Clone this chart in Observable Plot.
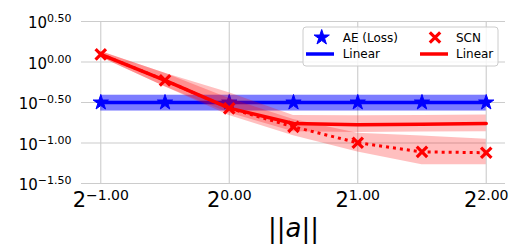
<!DOCTYPE html>
<html><head><meta charset="utf-8">
<script src="https://cdn.jsdelivr.net/npm/d3@7"></script>
<script src="https://cdn.jsdelivr.net/npm/@observablehq/plot@0.6"></script>
<style>
body{margin:0;background:#fff;}
#wrap{position:relative;width:524px;height:244px;}
</style></head><body><div id="wrap"></div>
<script>
// x: log2 of ||a||
const xExp = [-1, -0.5, 0, 0.5, 1, 1.5, 2];
// AE (Loss): log10 of values
const aeLog = [-0.5, -0.5, -0.5, -0.5, -0.5, -0.5, -0.5];
const aeLo  = [-0.605, -0.605, -0.605, -0.605, -0.605, -0.605, -0.605];
const aeHi  = [-0.41, -0.41, -0.41, -0.41, -0.41, -0.41, -0.41];
// SCN markers (dotted)
const scnLog = [0.095, -0.226, -0.572, -0.80, -0.997, -1.11, -1.12];
const scnLo  = [0.06, -0.305, -0.66, -0.91, -1.11, -1.27, -1.27];
const scnHi  = [0.13, -0.14, -0.45, -0.71, -0.88, -0.915, -0.955];
// SCN Linear (solid)
const scnLin   = [0.095, -0.226, -0.57, -0.76, -0.775, -0.77, -0.76];
const scnLinLo = [0.06, -0.305, -0.63, -0.86, -0.87, -0.865, -0.86];
const scnLinHi = [0.13, -0.14, -0.38, -0.66, -0.665, -0.66, -0.655];
// ticks (exponents)
const xTickExp = [-1, 0, 1, 2];
const yTickExp = [-1.5, -1.0, -0.5, 0, 0.5];
const legendLabels = ["AE (Loss)", "SCN", "Linear", "Linear"];

const rows = xExp.map((x, i) => ({
  x, ae: aeLog[i], aeLo: aeLo[i], aeHi: aeHi[i],
  scn: scnLog[i], scnLo: scnLo[i], scnHi: scnHi[i],
  lin: scnLin[i], linLo: scnLinLo[i], linHi: scnLinHi[i]
}));
const BLUE = "#0000ff", RED = "#ff0000";
const fmtExp = v => (v < 0 ? "\u2212" : "") + Math.abs(v).toFixed(2);

const svg = Plot.plot({
  width: 524, height: 244,
  marginLeft: 81, marginRight: 19, marginTop: 21, marginBottom: 61,
  style: {fontFamily: "DejaVu Sans", background: "white", overflow: "visible"},
  x: {type: "linear", domain: [-1.15, 2.15]},
  y: {type: "linear", domain: [-1.5, 0.5]},
  marks: [
    Plot.gridX(xTickExp, {stroke: "#cccccc", strokeOpacity: 1, strokeWidth: 1.1}),
    Plot.gridY(yTickExp, {stroke: "#cccccc", strokeOpacity: 1, strokeWidth: 1.1}),
    Plot.axisX(xTickExp, {tickSize: 0, tickPadding: 9, fontSize: 21, fill: "black",
      tickFormat: d => "2|" + fmtExp(d), label: null}),
    Plot.axisY(yTickExp, {tickSize: 0, tickPadding: 10, fontSize: 15, fill: "black", dy: 2,
      tickFormat: d => "10|" + fmtExp(d), label: null}),
    // AE bands & lines
    Plot.areaY(rows, {x: "x", y1: "aeLo", y2: "aeHi", fill: BLUE, fillOpacity: 0.3}),
    Plot.areaY(rows, {x: "x", y1: "aeLo", y2: "aeHi", fill: BLUE, fillOpacity: 0.3}),
    Plot.line(rows, {x: "x", y: "ae", stroke: BLUE, strokeWidth: 3.5}),
    Plot.dot(rows, {x: "x", y: "ae", symbol: "star", r: 4.8, fill: BLUE, stroke: BLUE, strokeWidth: 1}),
    // SCN bands & lines
    Plot.areaY(rows, {x: "x", y1: "scnLo", y2: "scnHi", fill: RED, fillOpacity: 0.25}),
    Plot.areaY(rows, {x: "x", y1: "linLo", y2: "linHi", fill: RED, fillOpacity: 0.25}),
    Plot.line(rows, {x: "x", y: "scn", stroke: RED, strokeWidth: 3, strokeDasharray: "3,4", strokeLinecap: "butt"}),
    Plot.line(rows, {x: "x", y: "lin", stroke: RED, strokeWidth: 3.5}),
    Plot.dot(rows, {x: "x", y: "scn", symbol: "times", r: 4.8, stroke: RED, strokeWidth: 3.2}),
    Plot.text(["||a||"], {text: d => d, frameAnchor: "bottom", lineAnchor: "top", dy: 35.5, fontSize: 26, fill: "black"})
  ]
});

const ns = "http://www.w3.org/2000/svg";
// superscripts for tick labels
function supify(sel, supSize, shift) {
  svg.querySelectorAll(sel).forEach(t => {
    const s = t.textContent;
    if (!s.includes("|")) return;
    const [b, e] = s.split("|");
    t.textContent = "";
    const t1 = document.createElementNS(ns, "tspan"); t1.textContent = b;
    const t2 = document.createElementNS(ns, "tspan"); t2.textContent = e;
    t2.setAttribute("font-size", supSize); t2.setAttribute("dy", -shift);
    t.appendChild(t1); t.appendChild(t2);
  });
}
supify('g[aria-label="x-axis tick label"] text', 14, 7);
supify('g[aria-label="y-axis tick label"] text', 11, 6);

// italic a in label
svg.querySelectorAll("text").forEach(t => {
  if (t.textContent === "||a||") {
    t.textContent = "";
    ["||", "a", "||"].forEach((p, i) => {
      const sp = document.createElementNS(ns, "tspan");
      sp.textContent = p;
      if (i === 1) sp.setAttribute("font-style", "italic");
      t.appendChild(sp);
    });
  }
});

// legend
const g = d3.select(svg).append("g")
  .style("font-family", "DejaVu Sans").style("font-size", "12px").attr("text-anchor", "start");
g.append("rect").attr("x", 303).attr("y", 27).attr("width", 195).attr("height", 39).attr("rx", 3)
  .attr("fill", "white").attr("fill-opacity", 0.8).attr("stroke", "#cccccc");
g.append("path").attr("d", d3.symbol(d3.symbolStar, Math.PI * 4.8 * 4.8)())
  .attr("transform", "translate(321.7,37.5)").attr("fill", BLUE).attr("stroke", BLUE);
g.append("path").attr("d", d3.symbol(d3.symbolTimes, Math.PI * 4.8 * 4.8)())
  .attr("transform", "translate(435,37.5)").attr("fill", "none").attr("stroke", RED).attr("stroke-width", 3.2);
g.append("line").attr("x1", 306).attr("x2", 334).attr("y1", 54).attr("y2", 54).attr("stroke", BLUE).attr("stroke-width", 3.5);
g.append("line").attr("x1", 420).attr("x2", 448).attr("y1", 54).attr("y2", 54).attr("stroke", RED).attr("stroke-width", 3.5);
[[342.7, 41.5, 0], [456, 41.5, 1], [342.7, 58.3, 2], [456, 58.3, 3]].forEach(([x, y, i]) => {
  g.append("text").attr("x", x).attr("y", y).attr("fill", "black").text(legendLabels[i]);
});

document.getElementById("wrap").appendChild(svg);
</script></body></html>
